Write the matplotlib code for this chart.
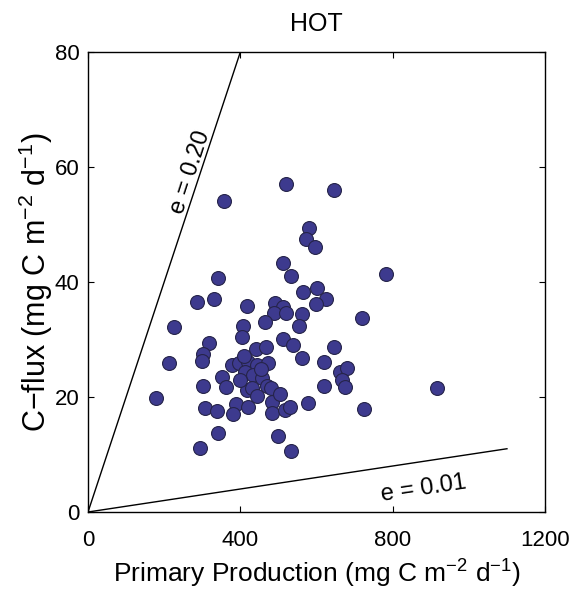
import matplotlib
matplotlib.use("Agg")
import matplotlib.pyplot as plt
import numpy as np

plt.rcParams['font.family'] = ['Liberation Sans', 'DejaVu Sans']
plt.rcParams['mathtext.fontset'] = 'custom'
plt.rcParams['mathtext.rm'] = 'Liberation Sans'
plt.rcParams['mathtext.it'] = 'Liberation Sans:italic'

# Data: primary production (x) and C-flux (y)
pp = [357, 520, 646, 580, 572, 596, 512, 533, 782, 342,
      564, 601, 625, 598, 286, 331, 418, 491, 512, 488,
      520, 562, 719, 465, 554, 408, 226, 404, 318, 512,
      538, 646, 302, 299, 441, 468, 562, 620, 212, 378,
      397, 420, 443, 472, 661, 680, 667, 675, 352, 412,
      433, 457, 302, 362, 417, 470, 480, 620, 178, 388,
      420, 483, 504, 577, 307, 339, 381, 483, 517, 530,
      724, 341, 499, 294, 534, 916, 400, 430, 445, 410,
      455]
cflux = [54.0, 57.0, 56.0, 49.4, 47.5, 46.0, 43.3, 41.0, 41.4, 40.7,
         38.3, 39.0, 37.0, 36.2, 36.5, 37.0, 35.8, 36.3, 35.7, 34.6,
         34.6, 34.4, 33.8, 33.0, 32.3, 32.4, 32.2, 30.4, 29.4, 30.1,
         29.0, 28.7, 27.5, 26.2, 28.3, 28.7, 26.8, 26.1, 25.9, 25.6,
         25.9, 26.1, 25.6, 25.9, 24.3, 25.0, 23.0, 21.8, 23.5, 24.3,
         23.8, 23.3, 21.9, 21.7, 21.2, 21.9, 21.6, 21.9, 19.8, 18.8,
         18.3, 19.1, 20.6, 19.0, 18.1, 17.6, 17.0, 17.2, 17.7, 18.2,
         17.9, 13.7, 13.2, 11.1, 10.6, 21.6, 23.0, 21.5, 20.2, 27.2,
         24.8]

# Efficiency lines
eff_values = [0.20, 0.01]
eff_xmax = [400, 1100]
eff_labels = ['e = 0.20', 'e = 0.01']

x_ticks = [0, 400, 800, 1200]
y_ticks = [0, 20, 40, 60, 80]

fig = plt.figure(figsize=(5.73, 5.90), dpi=100)
ax = fig.add_axes([0.1536, 0.1322, 0.7976, 0.7797])

for e, xm in zip(eff_values, eff_xmax):
    ax.plot([0, xm], [0, e * xm], color='black', lw=1.0)

ax.scatter(pp, cflux, s=100, facecolor='#3d3a8e', edgecolor='#26244a',
           linewidths=0.8, zorder=3)

ax.text(268, 59, eff_labels[0], rotation=72, ha='center', va='center',
        fontsize=17, rotation_mode='anchor')
ax.text(880, 4.0, eff_labels[1], rotation=8.5, ha='center', va='center',
        fontsize=17, rotation_mode='anchor')

ax.set_xlim(0, 1200)
ax.set_ylim(0, 80)
ax.set_xticks(x_ticks)
ax.set_yticks(y_ticks)
ax.tick_params(direction='in', top=True, right=True, length=4, width=0.8,
               labelsize=16)
ax.tick_params(axis='x', pad=13)
ax.tick_params(axis='y', pad=6)
for sp in ax.spines.values():
    sp.set_linewidth(1.0)

ax.set_title('HOT', fontsize=18, pad=15)
ax.set_xlabel('Primary Production (mg C m$^{-2}$ d$^{-1}$)', fontsize=19, labelpad=5)
ax.set_ylabel('C\u2212flux (mg C m$^{-2}$ d$^{-1}$)', fontsize=22, labelpad=0)

fig.savefig('out.png', dpi=100)
